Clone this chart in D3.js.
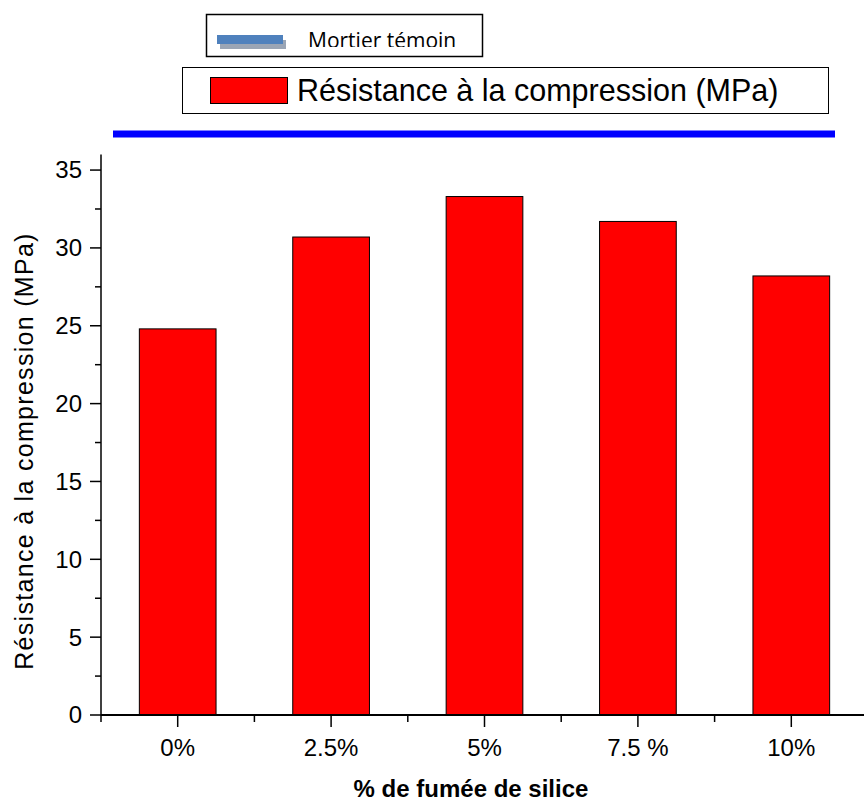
<!DOCTYPE html>
<html><head><meta charset="utf-8">
<script src="https://cdn.jsdelivr.net/npm/d3@7"></script>
<style>body{margin:0;background:#fff}svg{display:block}</style>
</head><body>
<script>
const categories = ["0%", "2.5%", "5%", "7.5 %", "10%"];
const values = [24.8, 30.7, 33.3, 31.7, 28.2];
const yTicks = [0, 5, 10, 15, 20, 25, 30, 35];
const yMinor = [2.5, 7.5, 12.5, 17.5, 22.5, 27.5, 32.5];
const seriesName = "Résistance à la compression (MPa)";
const refName = "Mortier témoin";
const xTitle = "% de fumée de silice";
const yTitle = "Résistance à la compression (MPa)";

const W = 864, H = 805;
const svg = d3.select("body").append("svg").attr("width", W).attr("height", H);
const x0 = 101, bandW = 153.4;
const x = d3.scaleBand().domain(categories).range([x0, x0 + bandW * categories.length]).paddingInner(0).paddingOuter(0);
const y = d3.scaleLinear().domain([0, 36]).range([715, 154.5]);
const font = "'Liberation Sans', Arial, sans-serif";

// bars
svg.append("g").selectAll("rect").data(values).join("rect")
  .attr("x", (d, i) => x(categories[i]) + x.bandwidth() * 0.25)
  .attr("width", x.bandwidth() * 0.5)
  .attr("y", d => y(d))
  .attr("height", d => y(0) - y(d))
  .attr("fill", "#ff0000").attr("stroke", "#000").attr("stroke-width", 1);

// y axis
const gy = svg.append("g").attr("transform", `translate(${x0},0)`);
gy.append("line").attr("x1", 0).attr("x2", 0).attr("y1", y(36)).attr("y2", y(0)).attr("stroke", "#000").attr("stroke-width", 1.5);
gy.selectAll(".maj").data(yTicks).join("line").attr("x1", -11).attr("x2", 0)
  .attr("y1", d => y(d)).attr("y2", d => y(d)).attr("stroke", "#000").attr("stroke-width", 1.5);
gy.selectAll(".min").data(yMinor).join("line").attr("x1", -6).attr("x2", 0)
  .attr("y1", d => y(d)).attr("y2", d => y(d)).attr("stroke", "#000").attr("stroke-width", 1.5);
gy.selectAll("text").data(yTicks).join("text").attr("x", -19).attr("y", d => y(d)).attr("dy", "0.35em")
  .attr("text-anchor", "end").attr("font-family", font).attr("font-size", 24).text(d => d);

// x axis
const gx = svg.append("g");
gx.append("line").attr("x1", x0).attr("x2", W).attr("y1", y(0)).attr("y2", y(0)).attr("stroke", "#000").attr("stroke-width", 2);
gx.selectAll(".maj").data(categories).join("line")
  .attr("x1", d => x(d) + x.bandwidth() / 2).attr("x2", d => x(d) + x.bandwidth() / 2)
  .attr("y1", y(0)).attr("y2", y(0) + 12).attr("stroke", "#000").attr("stroke-width", 1.5);
gx.selectAll(".min").data(categories).join("line")
  .attr("x1", d => x(d)).attr("x2", d => x(d))
  .attr("y1", y(0)).attr("y2", y(0) + 7).attr("stroke", "#000").attr("stroke-width", 1.5);
gx.selectAll("text").data(categories).join("text")
  .attr("x", d => x(d) + x.bandwidth() / 2).attr("y", 756)
  .attr("text-anchor", "middle").attr("font-family", font).attr("font-size", 24).text(d => d);

svg.append("text").attr("x", 471).attr("y", 797).attr("text-anchor", "middle")
  .attr("font-family", font).attr("font-weight", "bold").attr("font-size", 24).text(xTitle);
svg.append("text").attr("transform", "translate(33,451) rotate(-90)").attr("text-anchor", "middle")
  .attr("font-family", font).attr("font-size", 25).attr("letter-spacing", 1.3).text(yTitle);

// legend 1
const clip = svg.append("defs").append("clipPath").attr("id", "c1");
clip.append("rect").attr("x", 207).attr("y", 14).attr("width", 274).attr("height", 33);
svg.append("rect").attr("x", 206.5).attr("y", 14.5).attr("width", 276).attr("height", 42)
  .attr("fill", "#fff").attr("stroke", "#000").attr("stroke-width", 1.5);
svg.append("rect").attr("x", 220).attr("y", 40).attr("width", 66).attr("height", 9).attr("fill", "#9aa5b5");
svg.append("rect").attr("x", 217).attr("y", 35).attr("width", 66).attr("height", 9).attr("fill", "#4f81bd");
svg.append("text").attr("x", 308).attr("y", 48).attr("clip-path", "url(#c1)")
  .attr("font-family", "'Open Sans', sans-serif").attr("font-size", 21).text(refName);

// legend 2
svg.append("rect").attr("x", 182.5).attr("y", 67.5).attr("width", 646).attr("height", 46)
  .attr("fill", "#fff").attr("stroke", "#000").attr("stroke-width", 1);
svg.append("rect").attr("x", 210.5).attr("y", 77.5).attr("width", 77).attr("height", 26)
  .attr("fill", "#ff0000").attr("stroke", "#000").attr("stroke-width", 1);
svg.append("text").attr("x", 297).attr("y", 101).attr("font-family", font).attr("font-size", 30.5).text(seriesName);

// blue line
svg.append("rect").attr("x", 113).attr("y", 130.5).attr("width", 722).attr("height", 7).attr("fill", "#0000ff");
</script>
</body></html>
